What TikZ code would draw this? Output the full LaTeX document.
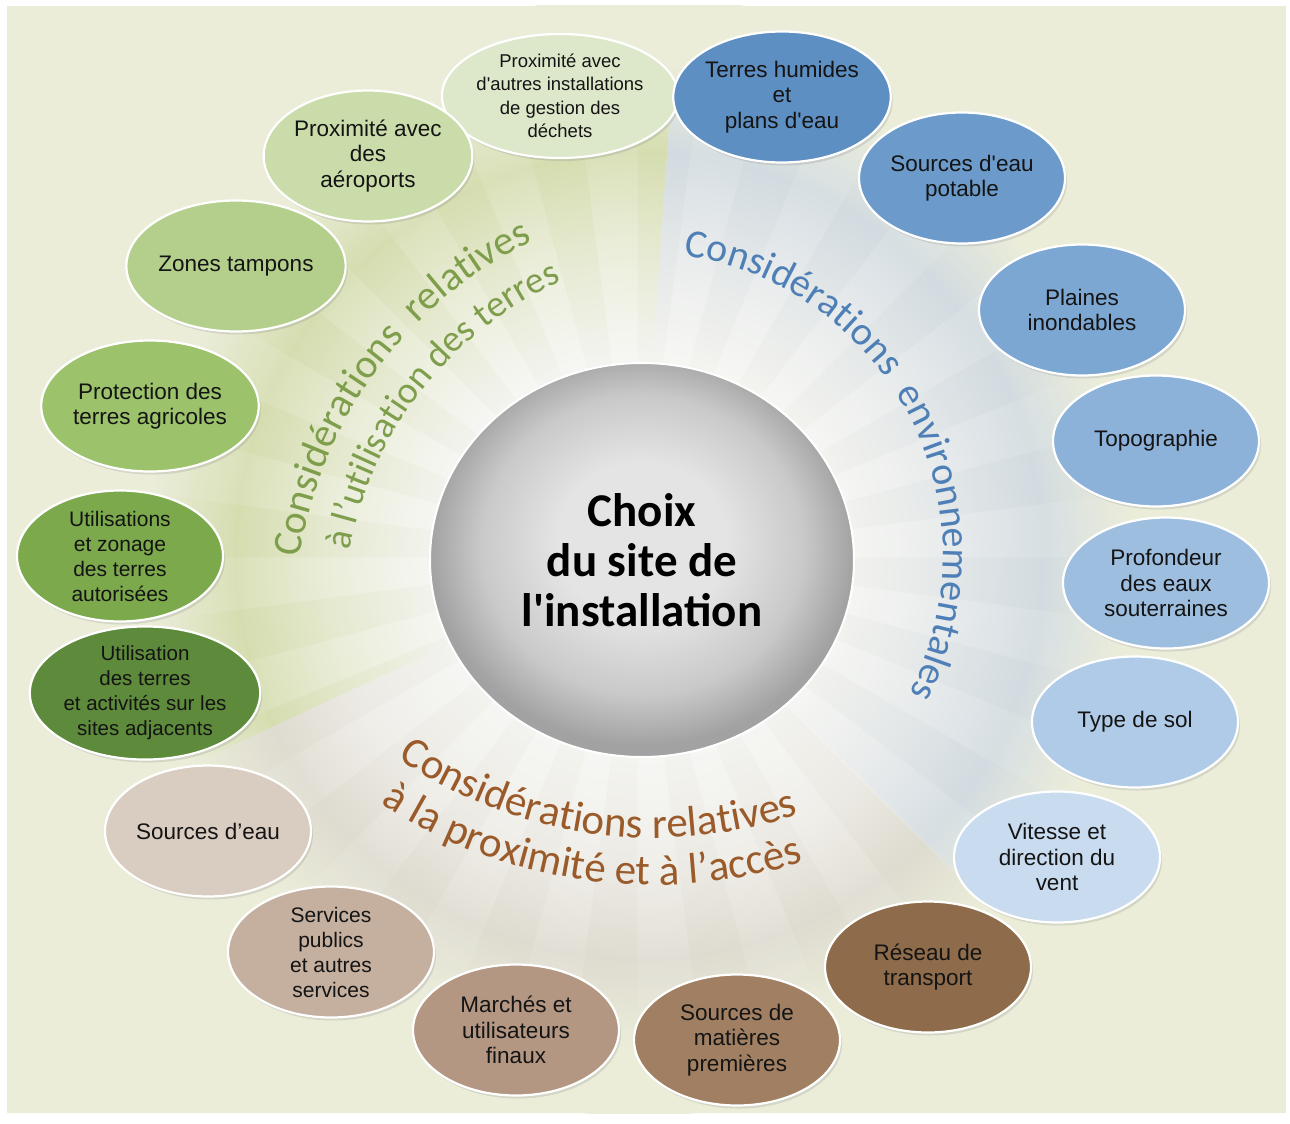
\documentclass[tikz,border=0pt]{standalone}
\usepackage{fontspec}
\setmainfont{Liberation Sans}[Ligatures=TeXOff]
\newfontfamily\calib{Carlito}[Ligatures=TeXOff]
\usetikzlibrary{shapes.geometric,shadows,fadings,decorations.text}
\definecolor{bgc}{HTML}{EBEDD9}
\definecolor{wW}{HTML}{F3F3EF}
\definecolor{wG1}{HTML}{E5E9CF}
\definecolor{wG2}{HTML}{D5DDB0}
\definecolor{wB1}{HTML}{E3E7E8}
\definecolor{wB2}{HTML}{D2DBE0}
\definecolor{wR1}{HTML}{ECEAE4}
\definecolor{wR2}{HTML}{DEDBD0}
\definecolor{cIn}{HTML}{E4E4E4}
\definecolor{cMid}{HTML}{C9C9C9}
\definecolor{cOut}{HTML}{A2A2A2}
% green items
\definecolor{gA}{HTML}{DDE7C9}
\definecolor{gB}{HTML}{C9DCA9}
\definecolor{gC}{HTML}{B4CF8B}
\definecolor{gD}{HTML}{9CC26B}
\definecolor{gE}{HTML}{7CA94B}
\definecolor{gF}{HTML}{5D8A3B}
% blue items
\definecolor{bA}{HTML}{5E8FC2}
\definecolor{bB}{HTML}{6C9BCB}
\definecolor{bC}{HTML}{7DA7D3}
\definecolor{bD}{HTML}{8DB2D9}
\definecolor{bE}{HTML}{9EBEE0}
\definecolor{bF}{HTML}{B0CBE7}
\definecolor{bG}{HTML}{C8DBEF}
% brown items
\definecolor{rA}{HTML}{8E6B4A}
\definecolor{rB}{HTML}{A17F62}
\definecolor{rC}{HTML}{B39783}
\definecolor{rD}{HTML}{C5AF9F}
\definecolor{rE}{HTML}{D9CCC0}
% labels
\definecolor{lgreen}{HTML}{7E9E4C}
\definecolor{lblue}{HTML}{4E7FB6}
\definecolor{lbrown}{HTML}{9A5A2A}

\pgfdeclareradialshading{gwash}{\pgfpointorigin}{color(0bp)=(wW); color(9bp)=(wW); color(14bp)=(wG1); color(18bp)=(wG2); color(22bp)=(bgc); color(50bp)=(bgc)}
\pgfdeclareradialshading{bwash}{\pgfpointorigin}{color(0bp)=(wW); color(9bp)=(wW); color(14bp)=(wB1); color(18bp)=(wB2); color(22bp)=(bgc); color(50bp)=(bgc)}
\pgfdeclareradialshading{rwash}{\pgfpointorigin}{color(0bp)=(wW); color(9bp)=(wW); color(14bp)=(wR1); color(18bp)=(wR2); color(22bp)=(bgc); color(50bp)=(bgc)}
\pgfdeclareradialshading{cshade}{\pgfpoint{0bp}{3bp}}{color(0bp)=(cIn); color(10bp)=(cIn); color(19bp)=(cMid); color(25bp)=(cOut); color(50bp)=(cOut)}
\tikzfading[name=rayfade, inner color=transparent!0, outer color=transparent!100]

\begin{document}
\begin{tikzpicture}[x=1pt,y=1pt,
  item/.style={ellipse, draw=white, line width=2.2pt, minimum width=206pt,
    minimum height=131pt, inner sep=0pt, align=center,
    font=\fontsize{22.5}{25.5}\selectfont, text=black!92,
    drop shadow={shadow xshift=2pt, shadow yshift=-3pt, opacity=0.22}},
  smallitem/.style={item, font=\fontsize{21}{25}\selectfont},
  arclabel/.style={decorate, decoration={text along path, text align=left, #1}},
]
\useasboundingbox (0,0) rectangle (1290,-1124);
\fill[white] (0,0) rectangle (1290,-1124);
\fill[bgc] (7,-6) rectangle (1286,-1113);
\coordinate (c) at (639,-556);
\coordinate (gc) at (715,-620);
\coordinate (bc) at (640,-555);
\coordinate (rc) at (654,-386);

\begin{scope}
  \clip (7,-6) rectangle (1286,-1113);
  \begin{scope}
    \clip (c) -- ([shift={(86:900)}]c) arc[start angle=86, end angle=205, radius=900] -- cycle;
    \shade[shading=gwash] (c) circle (560);
  \end{scope}
  \begin{scope}
    \clip (c) -- ([shift={(205:900)}]c) arc[start angle=205, end angle=315, radius=900] -- cycle;
    \shade[shading=rwash] (c) circle (560);
  \end{scope}
  \begin{scope}
    \clip (c) -- ([shift={(-45:900)}]c) arc[start angle=-45, end angle=86, radius=900] -- cycle;
    \shade[shading=bwash] (c) circle (560);
  \end{scope}
  % light rays
  \fill[white, opacity=0.5, path fading=rayfade]
    \foreach \a in {0,15,...,345} {
      (c) -- ([shift={(\a:520)}]c) arc[start angle=\a, end angle=\a+7.5, radius=520] -- cycle
    };
\end{scope}

% centre
\node[ellipse, minimum width=424pt, minimum height=394pt, inner sep=0pt,
  shading=cshade, draw=white, line width=2pt, align=center,
  font=\calib\bfseries\fontsize{47}{50}\selectfont] (ctr) at (642,-560)
  {Choix\\du site de\\l'installation};

% curved category labels
\path[arclabel={text color=lgreen, text={|\calib\fontsize{41}{41}\selectfont|Considérations{\kern18pt}relatives}}]
  ([shift={(171.5:420)}]gc) arc[start angle=171.5, end angle=95, radius=420];
\path[arclabel={text color=lgreen, text={|\calib\fontsize{37.5}{37.5}\selectfont|à l’utilisation des terres}}]
  ([shift={(169.3:372)}]gc) arc[start angle=169.3, end angle=90, radius=372];
\path[arclabel={text color=lblue, text={|\calib\fontsize{40}{40}\selectfont|Considérations{\kern18pt}environnementales}}]
  ([shift={(81.7:303)}]bc) arc[start angle=81.7, end angle=-40, radius=303];
\path[arclabel={text color=lbrown, text={|\calib\fontsize{43}{43}\selectfont|Considérations relatives}}]
  ([shift={(235.5:452)}]rc) arc[start angle=235.5, end angle=310, radius=452];
\path[arclabel={text color=lbrown, text={|\calib\fontsize{43}{43}\selectfont|à la proximité et à l’accès}}]
  ([shift={(236.8:499)}]rc) arc[start angle=236.8, end angle=310, radius=499];

% green items
\node[item, fill=gA, minimum width=204pt, minimum height=124pt, font=\fontsize{18.5}{23.5}\selectfont] (g1) at (560,-96)
  {Proximité avec\\d'autres installations\\de gestion des\\déchets};
\node[item, fill=gB] (g2) at (368,-156) {Proximité avec\\des\\aéroports};
\node[item, fill=gC] (g3) at (236,-266) {Zones tampons};
\node[item, fill=gD] (g4) at (150,-406) {Protection des\\terres agricoles};
\node[smallitem, fill=gE] (g5) at (120,-556) {Utilisations\\et zonage\\des terres\\autorisées};
\node[smallitem, fill=gF, font=\fontsize{20.5}{25}\selectfont] (g6) at (145,-693) {Utilisation\\des terres\\et activités sur les\\sites adjacents};

% brown items
\node[item, fill=rE] (r1) at (208,-831) {Sources d’eau};
\node[smallitem, fill=rD] (r2) at (331,-952) {Services\\publics\\et autres\\services};
\node[item, fill=rC] (r3) at (516,-1030) {Marchés et\\utilisateurs\\finaux};
\node[item, fill=rB] (r4) at (737,-1040) {Sources de\\matières\\premières};
\node[item, fill=rA] (r5) at (928,-967) {Réseau de\\transport};

% blue items
\node[item, fill=bG] (b7) at (1057,-857) {Vitesse et\\direction du\\vent};
\node[item, fill=bF] (b6) at (1135,-722) {Type de sol};
\node[item, fill=bE] (b5) at (1166,-583) {Profondeur\\des eaux\\souterraines};
\node[item, fill=bD] (b4) at (1156,-441) {Topographie};
\node[item, fill=bC] (b3) at (1082,-310) {Plaines\\inondables};
\node[item, fill=bB] (b2) at (962,-178) {Sources d'eau\\potable};
\node[item, fill=bA] (b1) at (782,-97) {Terres humides\\et\\plans d'eau};
\end{tikzpicture}
\end{document}
